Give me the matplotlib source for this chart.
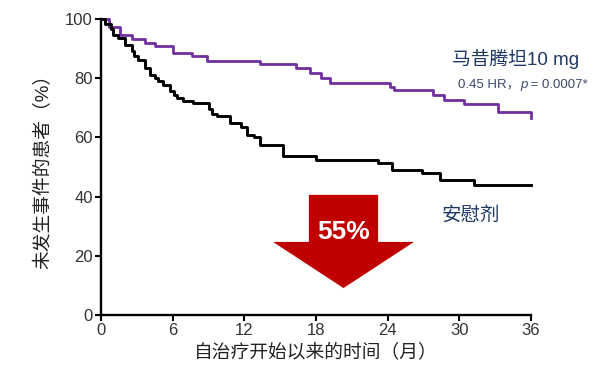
import matplotlib
matplotlib.use("Agg")
import matplotlib.pyplot as plt
from matplotlib.patches import Polygon
from matplotlib import font_manager

# font setup: latin text first, CJK as fallback
names = {f.name for f in font_manager.fontManager.ttflist}
latin = 'Liberation Sans Narrow' if 'Liberation Sans Narrow' in names else 'Liberation Sans'
plt.rcParams['font.family'] = ['Liberation Sans', 'Noto Sans CJK SC', 'DejaVu Sans']

### DATA ############################################
# macitentan 10 mg (purple), step curve
drug_t = [0, 0.7, 1.6, 2.6, 3.7, 4.5, 6.0, 7.6, 8.9, 13.3, 16.3, 17.5,
          18.4, 19.2, 24.2, 24.5, 27.8, 28.7, 30.4, 33.2, 36.0]
drug_v = [100, 97.5, 94.8, 93.3, 91.9, 90.8, 88.7, 87.4, 86.0, 85.0, 83.6, 81.8,
          80.1, 78.3, 77.2, 75.9, 74.2, 72.8, 71.2, 68.6, 66.7]

# placebo (black)
placebo_t = [0, 0.3, 0.8, 1.0, 1.45, 2.0, 2.6, 2.75, 3.1, 3.7, 4.1, 4.5, 4.8,
             5.2, 5.8, 6.1, 6.35, 6.9, 7.7, 9.0, 9.3, 9.7, 10.8, 11.7, 12.2,
             12.8, 13.3, 15.2, 18.0, 23.2, 24.4, 26.9, 28.4, 31.2, 36.0]
placebo_v = [100, 98.5, 96.5, 94.8, 93.6, 91.4, 89.1, 87.4, 86.3, 83.5, 81.2, 80.1, 79.0,
             77.8, 75.6, 74.4, 73.3, 72.2, 71.6, 69.5, 68.0, 67.1, 64.9, 63.7, 60.9,
             60.3, 57.5, 53.6, 52.5, 51.5, 49.1, 48.0, 45.5, 44.0, 44.0]

x_ticks = [0, 6, 12, 18, 24, 30, 36]
y_ticks = [0, 20, 40, 60, 80, 100]
#####################################################

fig = plt.figure(figsize=(5.96, 3.75), dpi=100)
ax = fig.add_axes([0.1695, 0.16, 0.7215, 0.789])

ax.step(drug_t, drug_v, where='post', color='#7030a0', lw=2.0, clip_on=False, zorder=3)
ax.step(placebo_t, placebo_v, where='post', color='black', lw=2.1, clip_on=False, zorder=3)

ax.set_xlim(0, 36)
ax.set_ylim(0, 100)
ax.set_xticks(x_ticks)
ax.set_yticks(y_ticks)
for s in ['top', 'right']:
    ax.spines[s].set_visible(False)
for s in ['left', 'bottom']:
    ax.spines[s].set_linewidth(1.7)
ax.tick_params(direction='out', length=4, width=1.5, labelsize=12, colors='black',
               labelcolor='#333333', pad=2)

ax.set_xlabel('自治疗开始以来的时间（月）', fontsize=13.5, color='#222222', labelpad=4)
ax.set_ylabel('未发生事件的患者（%）', fontsize=13.5, color='#222222', labelpad=9)

# big red arrow with the reduction
arrow = Polygon([(17.4, 40.6), (23.2, 40.6), (23.2, 24.7), (26.2, 24.7),
                 (20.3, 9.1), (14.4, 24.7), (17.4, 24.7)],
                closed=True, facecolor='#c00000', edgecolor='none', zorder=2)
ax.add_patch(arrow)
ax.text(20.3, 28.0, '55%', ha='center', va='center', color='white', fontsize=19,
        fontweight='bold', family=[latin, 'DejaVu Sans'], zorder=4)

ax.text(40.0, 86.6, '马昔腾坦10 mg', ha='right', va='center', fontsize=13.5,
        color='#1f3864', clip_on=False)

# hazard ratio line, p in italics, pieces chained left to right
hr_color = '#3b4a6b'
t1 = ax.text(29.9, 77.8, '0.45 HR，', ha='left', va='center', fontsize=9.5,
             color=hr_color, clip_on=False)
t2 = ax.annotate('p', xy=(1, 0), xycoords=t1, ha='left', va='bottom', fontsize=9.5,
                 style='italic', color=hr_color, annotation_clip=False)
ax.annotate(' = 0.0007*', xy=(1, 0), xycoords=t2, ha='left', va='bottom', fontsize=9.5,
            color=hr_color, annotation_clip=False)

ax.text(31.0, 33.5, '安慰剂', ha='center', va='center', fontsize=14,
        color='#1f3864')

fig.savefig('out.png', dpi=100)
